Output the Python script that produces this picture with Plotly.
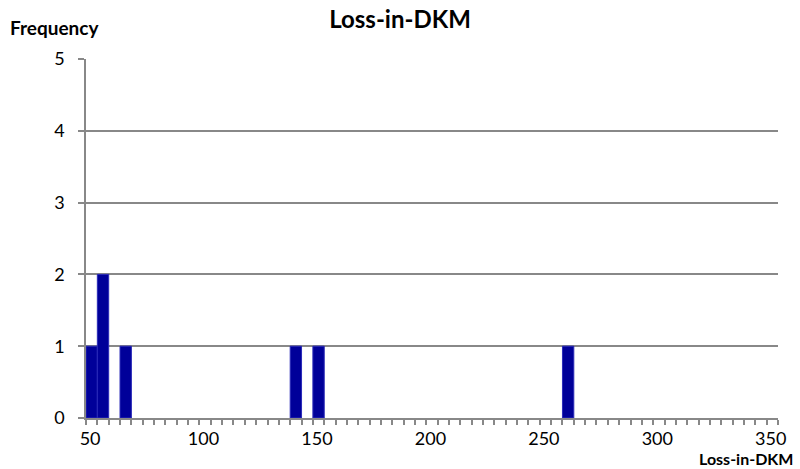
import plotly.graph_objects as go

# Histogram bins (left edges), bin width and frequencies
bin_starts = [48.2, 53.2, 63.2, 138.2, 148.2, 258.2]
bin_width = 5
frequencies = [1, 2, 1, 1, 1, 1]
x_tick_vals = [50, 100, 150, 200, 250, 300, 350]
y_tick_vals = [0, 1, 2, 3, 4, 5]

centers = [s + bin_width / 2 for s in bin_starts]

font = "Lato, Open Sans, sans-serif"

fig = go.Figure(go.Bar(
    x=centers, y=frequencies, width=[bin_width] * len(centers),
    marker=dict(color="#000099", line=dict(color="#2a2ab8", width=1)),
))

fig.update_layout(
    width=800, height=469,
    margin=dict(l=86, r=22, t=59, b=51),
    plot_bgcolor="white", paper_bgcolor="white",
    showlegend=False,
    font=dict(family=font, size=18, color="#000"),
    title=dict(text="<b>Loss-in-DKM</b>", x=0.5, xanchor="center", y=0.958, yanchor="middle",
               font=dict(size=24, family=font)),
    xaxis=dict(
        range=[48.2, 353.2], tickvals=x_tick_vals, ticks="", showgrid=False,
        showline=True, linecolor="#888", linewidth=1.5,
        minor=dict(ticks="outside", tick0=48.2, dtick=bin_width, ticklen=5, tickcolor="#888",
                   tickwidth=1.5, showgrid=False),
        tickfont=dict(size=18), zeroline=False, ticklabelstandoff=4,
    ),
    yaxis=dict(
        range=[0, 5], tickvals=y_tick_vals, ticks="outside", ticklen=6, tickcolor="#888",
        tickwidth=1.5, showgrid=True, gridcolor="#888", gridwidth=1.5,
        showline=True, linecolor="#888", linewidth=1.5, zeroline=False,
        tickfont=dict(size=18), ticklabelstandoff=10,
    ),
    annotations=[
        dict(text="<b>Frequency</b>", xref="paper", yref="paper", x=-0.112, y=1.088,
             xanchor="left", yanchor="middle", showarrow=False, font=dict(size=19, family=font)),
        dict(text="<b>Loss-in-DKM</b>", xref="paper", yref="paper", x=1.025, y=-0.112,
             xanchor="right", yanchor="middle", showarrow=False, font=dict(size=16, family=font)),
    ],
)

fig.write_html("out.html")
